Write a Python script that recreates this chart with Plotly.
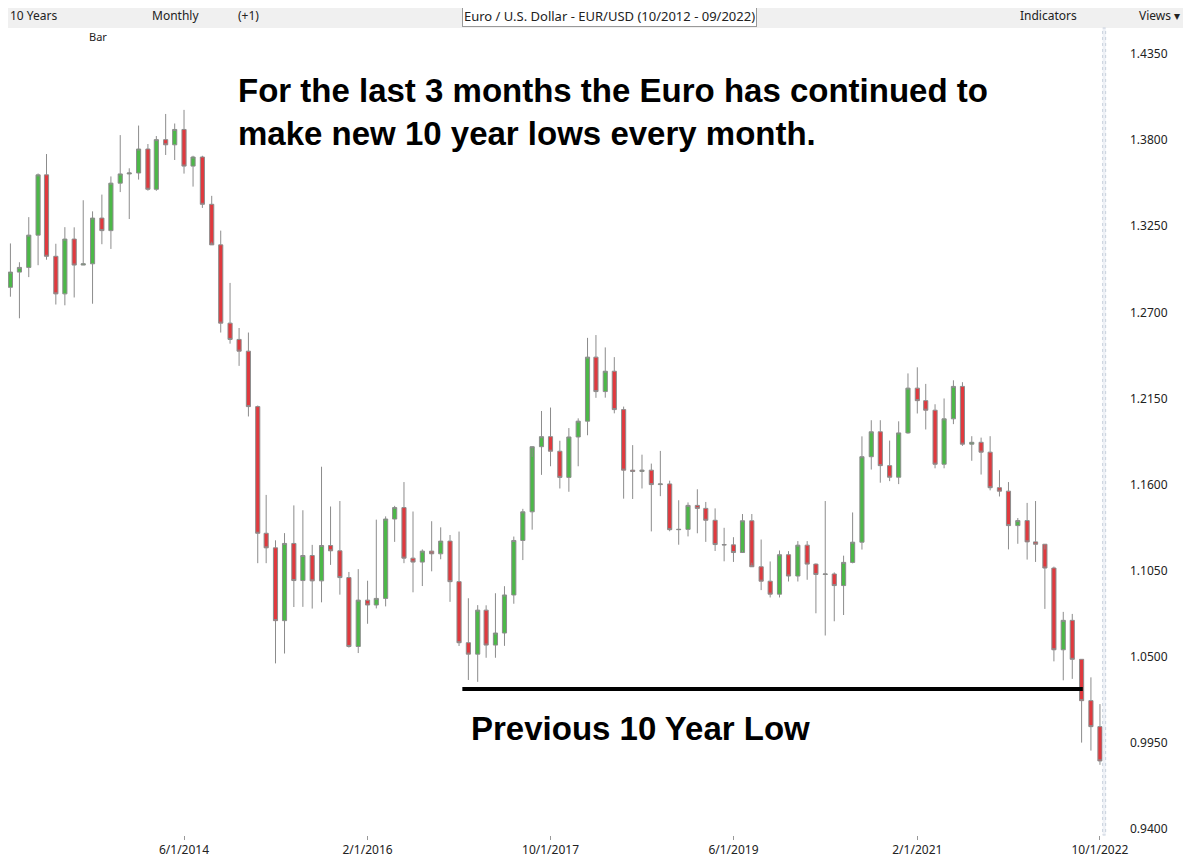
import pandas as pd
import plotly.graph_objects as go

# Monthly EUR/USD candles, Oct 2012 .. Sep 2022 (plotted at period end = first of next month)
months = pd.date_range("2012-11-01", periods=120, freq="MS")

opens = [
    1.2860, 1.2957, 1.2987,
    1.3193, 1.3578, 1.3058, 1.2818, 1.3168, 1.3002, 1.3010, 1.3302, 1.3222, 1.3525, 1.3584, 1.3590,
    1.3743, 1.3486, 1.3803, 1.3770, 1.3868, 1.3634, 1.3692, 1.3390, 1.3131, 1.2631, 1.2527, 1.2452,
    1.2098, 1.1289, 1.1196, 1.0731, 1.1224, 1.0987, 1.1147, 1.0985, 1.1211, 1.1177, 1.1006, 1.0566,
    1.0862, 1.0831, 1.0873, 1.1380, 1.1453, 1.1130, 1.1105, 1.1175, 1.1158, 1.1239, 1.0980, 1.0590,
    1.0517, 1.0798, 1.0575, 1.0652, 1.0895, 1.1243, 1.1426, 1.1842, 1.1906, 1.1813, 1.1646, 1.1904,
    1.2005, 1.2414, 1.2194, 1.2324, 1.2079, 1.1692, 1.1684, 1.1692, 1.1600, 1.1604, 1.1312, 1.1314,
    1.1467, 1.1448, 1.1372, 1.1217, 1.1215, 1.1166, 1.1369, 1.1075, 1.0983, 1.0900, 1.1152, 1.1016,
    1.1213, 1.1092, 1.1026, 1.1029, 1.0955, 1.1103, 1.1232, 1.1778, 1.1937, 1.1721, 1.1647, 1.1930,
    1.2216, 1.2136, 1.2075, 1.1730, 1.2020, 1.2227, 1.1858, 1.1870, 1.1807, 1.1580, 1.1558, 1.1338,
    1.1370, 1.1234, 1.1219, 1.1067, 1.0545, 1.0733, 1.0484, 1.0220, 1.0054,
]
highs = [
    1.3140, 1.3020, 1.3308,
    1.3587, 1.3711, 1.3138, 1.3244, 1.3243, 1.3416, 1.3345, 1.3452, 1.3568, 1.3832, 1.3620, 1.3893,
    1.3775, 1.3826, 1.3967, 1.3906, 1.3993, 1.3700, 1.3700, 1.3444, 1.3222, 1.2888, 1.2600, 1.2571,
    1.2105, 1.1534, 1.1244, 1.1290, 1.1467, 1.1436, 1.1215, 1.1714, 1.1460, 1.1495, 1.1042, 1.1060,
    1.0986, 1.1376, 1.1397, 1.1464, 1.1616, 1.1428, 1.1186, 1.1366, 1.1327, 1.1278, 1.1300, 1.0874,
    1.0830, 1.0829, 1.0906, 1.0951, 1.1268, 1.1445, 1.1777, 1.2070, 1.2092, 1.1880, 1.1961, 1.2023,
    1.2537, 1.2555, 1.2476, 1.2414, 1.2098, 1.1852, 1.1791, 1.1734, 1.1815, 1.1625, 1.1500, 1.1486,
    1.1570, 1.1489, 1.1448, 1.1324, 1.1264, 1.1412, 1.1412, 1.1249, 1.1109, 1.1179, 1.1175, 1.1239,
    1.1239, 1.1096, 1.1495, 1.1039, 1.1146, 1.1422, 1.1908, 1.2011, 1.2011, 1.1881, 1.2004, 1.2310,
    1.2349, 1.2243, 1.2113, 1.2150, 1.2266, 1.2254, 1.1909, 1.1900, 1.1909, 1.1692, 1.1616, 1.1386,
    1.1483, 1.1495, 1.1185, 1.1076, 1.0787, 1.0774, 1.0486, 1.0369, 1.0198,
]
lows = [
    1.2800, 1.2662, 1.2925,
    1.3001, 1.3036, 1.2750, 1.2745, 1.2795, 1.3005, 1.2755, 1.3135, 1.3105, 1.3468, 1.3296, 1.3548,
    1.3477, 1.3476, 1.3705, 1.3673, 1.3586, 1.3503, 1.3367, 1.3151, 1.2571, 1.2500, 1.2358, 1.2035,
    1.1098, 1.1098, 1.0458, 1.0521, 1.0818, 1.0819, 1.0808, 1.0848, 1.1087, 1.0897, 1.0559, 1.0524,
    1.0711, 1.0809, 1.0822, 1.1234, 1.1098, 1.0912, 1.0952, 1.1046, 1.1123, 1.0851, 1.0569, 1.0352,
    1.0340, 1.0494, 1.0494, 1.0570, 1.0839, 1.1118, 1.1312, 1.1662, 1.1717, 1.1575, 1.1554, 1.1717,
    1.1915, 1.2154, 1.2155, 1.2055, 1.1510, 1.1508, 1.1575, 1.1301, 1.1526, 1.1302, 1.1216, 1.1269,
    1.1289, 1.1234, 1.1176, 1.1110, 1.1106, 1.1181, 1.1101, 1.0926, 1.0879, 1.0879, 1.0981, 1.0981,
    1.0992, 1.0778, 1.0636, 1.0727, 1.0767, 1.1097, 1.1185, 1.1696, 1.1612, 1.1622, 1.1603, 1.1925,
    1.2054, 1.1952, 1.1704, 1.1704, 1.1986, 1.1847, 1.1752, 1.1664, 1.1563, 1.1524, 1.1186, 1.1222,
    1.1121, 1.1106, 1.0806, 1.0471, 1.0350, 1.0359, 0.9952, 0.9901, 0.9810,
]
closes = [
    1.2957, 1.2987, 1.3193,
    1.3578, 1.3058, 1.2818, 1.3168, 1.3002, 1.3010, 1.3302, 1.3222, 1.3525, 1.3584, 1.3590, 1.3743,
    1.3486, 1.3803, 1.3770, 1.3868, 1.3634, 1.3692, 1.3390, 1.3131, 1.2631, 1.2527, 1.2452, 1.2098,
    1.1289, 1.1196, 1.0731, 1.1224, 1.0987, 1.1147, 1.0985, 1.1211, 1.1177, 1.1006, 1.0566, 1.0862,
    1.0831, 1.0873, 1.1380, 1.1453, 1.1130, 1.1105, 1.1175, 1.1158, 1.1239, 1.0980, 1.0590, 1.0517,
    1.0798, 1.0575, 1.0652, 1.0895, 1.1243, 1.1426, 1.1842, 1.1906, 1.1813, 1.1646, 1.1904, 1.2005,
    1.2414, 1.2194, 1.2324, 1.2079, 1.1692, 1.1684, 1.1692, 1.1600, 1.1604, 1.1312, 1.1314, 1.1467,
    1.1448, 1.1372, 1.1217, 1.1215, 1.1166, 1.1369, 1.1075, 1.0983, 1.0900, 1.1152, 1.1016, 1.1213,
    1.1092, 1.1026, 1.1029, 1.0955, 1.1103, 1.1232, 1.1778, 1.1937, 1.1721, 1.1647, 1.1930, 1.2216,
    1.2136, 1.2075, 1.1730, 1.2020, 1.2227, 1.1858, 1.1870, 1.1807, 1.1580, 1.1558, 1.1338, 1.1370,
    1.1234, 1.1219, 1.1067, 1.0545, 1.0733, 1.0484, 1.0220, 1.0054, 0.9835,
]

y_ticks = [0.9400, 0.9950, 1.0500, 1.1050, 1.1600, 1.2150, 1.2700, 1.3250, 1.3800, 1.4350]
x_ticks = ["2012-10-01", "2014-06-01", "2016-02-01", "2017-10-01", "2019-06-01", "2021-02-01", "2022-10-01"]
x_tick_text = ["10/1/2012", "6/1/2014", "2/1/2016", "10/1/2017", "6/1/2019", "2/1/2021", "10/1/2022"]
prev_low = 1.0295

fig = go.Figure(go.Candlestick(
    x=months, open=opens, high=highs, low=lows, close=closes,
    increasing=dict(line=dict(color="#8c8c8c", width=1), fillcolor="#4cb848"),
    decreasing=dict(line=dict(color="#8c8c8c", width=1), fillcolor="#e0393e"),
    whiskerwidth=0, showlegend=False,
))

fig.add_shape(type="line", xref="x", yref="y", x0="2016-12-12", x1="2022-08-05",
              y0=prev_low, y1=prev_low, line=dict(color="black", width=4))
fig.add_shape(type="rect", xref="x", yref="paper", x0="2022-10-10", x1="2022-10-20",
              y0=0, y1=1, line=dict(color="#c8d0dc", width=1, dash="dot"), fillcolor="#eef1f6")
# toolbar strip
fig.add_shape(type="rect", xref="paper", yref="paper", x0=-0.01, x1=1.2, y0=1.0, y1=1.03,
              line=dict(width=0), fillcolor="#f0f0f0", layer="below")

big = dict(family="Liberation Sans, Arial", size=33, color="black")
fig.add_annotation(xref="paper", yref="paper", x=0.206, y=0.948, xanchor="left", yanchor="top",
                   align="left", showarrow=False, font=big,
                   text="<b>For the last 3 months the Euro has continued to<br>make new 10 year lows every month.</b>")
fig.add_annotation(xref="paper", yref="y", x=0.416, y=1.004, xanchor="left", yanchor="middle",
                   showarrow=False, font=big, text="<b>Previous 10 Year Low</b>")

small = dict(family="Noto Sans, Arial", size=12, color="#222")
fig.add_annotation(xref="paper", yref="paper", x=0.071, y=0.989, xanchor="left", yanchor="middle",
                   showarrow=False, font=dict(family="Noto Sans", size=11, color="#222"), text="Bar")
fig.add_annotation(xref="paper", yref="paper", x=0.0, y=1.015, xanchor="left", yanchor="middle",
                   showarrow=False, font=small, text="10 Years")
fig.add_annotation(xref="paper", yref="paper", x=0.128, y=1.015, xanchor="left", yanchor="middle",
                   showarrow=False, font=small, text="Monthly")
fig.add_annotation(xref="paper", yref="paper", x=0.206, y=1.015, xanchor="left", yanchor="middle",
                   showarrow=False, font=small, text="(+1)")
fig.add_annotation(xref="paper", yref="paper", x=0.410, y=1.015, xanchor="left", yanchor="middle",
                   showarrow=False, font=dict(family="Noto Sans", size=13, color="#222"),
                   text="Euro / U.S. Dollar - EUR/USD (10/2012 - 09/2022)", bgcolor="white",
                   bordercolor="#999", borderwidth=1, borderpad=1)
fig.add_annotation(xref="paper", yref="paper", x=0.912, y=1.015, xanchor="left", yanchor="middle",
                   showarrow=False, font=small, text="Indicators")
fig.add_annotation(xref="paper", yref="paper", x=1.02, y=1.015, xanchor="left", yanchor="middle",
                   showarrow=False, font=small, text="Views ▾")

fig.update_layout(
    width=1191, height=866,
    margin=dict(l=0, r=84, t=20, b=39),
    paper_bgcolor="white", plot_bgcolor="white",
    font=dict(family="Noto Sans, Arial", size=12, color="#222"),
    xaxis=dict(range=["2012-10-24", "2022-11-20"], rangeslider=dict(visible=False),
               tickvals=x_ticks, ticktext=x_tick_text, showgrid=False, ticks="outside",
               ticklen=4, tickcolor="#999", zeroline=False),
    yaxis=dict(side="right", range=[0.9362, 1.4516], tickvals=y_ticks,
               ticktext=[f"{v:.4f}" for v in y_ticks], showgrid=False, zeroline=False,
               ticks="", ticklabelstandoff=14),
)

fig.write_html("out.html")
